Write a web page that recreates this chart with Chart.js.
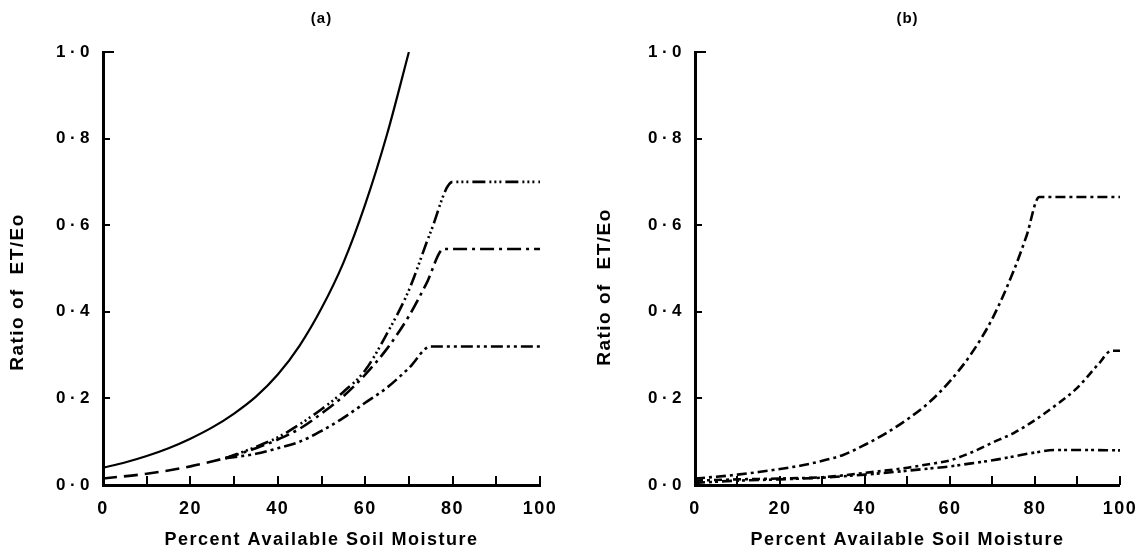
<!DOCTYPE html>
<html>
<head>
<meta charset="utf-8">
<script src="https://cdn.jsdelivr.net/npm/chart.js@4.4.0/dist/chart.umd.min.js"></script>
<style>
  body { margin: 0; background: #fff; }
  .panel { position: absolute; top: 0; width: 574px; height: 555px; }
</style>
</head>
<body>
<div class="panel" style="left:0"><canvas id="chartA" width="574" height="555"></canvas></div>
<div class="panel" style="left:574px"><canvas id="chartB" width="574" height="555"></canvas></div>
<script>
// Panel (a): shared dry-end segment, then the curves
const aBaseX = [0, 10, 20, 28];
const aBaseY = [0.015, 0.026, 0.043, 0.062];

const aSolidX = [0, 5, 10, 15, 20, 25, 30, 35, 40, 45, 50, 55, 60, 65, 70];
const aSolidY = [0.04, 0.052, 0.067, 0.085, 0.107, 0.133, 0.165, 0.204, 0.255, 0.322, 0.408, 0.513, 0.648, 0.81, 1.0];

const aHighX = [28, 35, 40, 45, 50, 55, 60, 65, 70, 75, 80, 90, 100];
const aHighY = [0.062, 0.088, 0.11, 0.14, 0.175, 0.215, 0.265, 0.35, 0.45, 0.585, 0.70, 0.70, 0.70];

const aMidX = [28, 35, 40, 45, 50, 55, 60, 65, 70, 74, 78, 90, 100];
const aMidY = [0.062, 0.085, 0.105, 0.13, 0.165, 0.205, 0.255, 0.315, 0.39, 0.465, 0.545, 0.545, 0.545];

const aLowX = [28, 35, 40, 45, 50, 55, 60, 65, 70, 75, 80, 90, 100];
const aLowY = [0.062, 0.072, 0.085, 0.1, 0.125, 0.155, 0.19, 0.225, 0.27, 0.32, 0.32, 0.32, 0.32];

// Panel (b) curves
const bHighX = [0, 5, 10, 15, 20, 25, 30, 35, 40, 45, 50, 55, 60, 65, 70, 75, 78, 81, 90, 100];
const bHighY = [0.015, 0.019, 0.024, 0.03, 0.037, 0.045, 0.056, 0.07, 0.093, 0.12, 0.152, 0.19, 0.24, 0.303, 0.385, 0.495, 0.575, 0.665, 0.665, 0.665];

const bMidX = [0, 10, 20, 30, 40, 50, 55, 60, 65, 70, 75, 80, 85, 90, 95, 98, 100];
const bMidY = [0.01, 0.013, 0.015, 0.018, 0.028, 0.04, 0.048, 0.057, 0.075, 0.098, 0.12, 0.15, 0.185, 0.225, 0.28, 0.31, 0.31];

const bLowX = [0, 10, 20, 30, 40, 50, 55, 60, 65, 70, 75, 80, 85, 90, 100];
const bLowY = [0.005, 0.01, 0.013, 0.017, 0.024, 0.033, 0.038, 0.043, 0.05, 0.057, 0.066, 0.075, 0.081, 0.081, 0.08];

const FONT = "'Liberation Sans', Arial, sans-serif";

function pts(xs, ys) {
    return xs.map((x, i) => ({ x: x, y: ys[i] }));
}

function curve(xs, ys, dash, width) {
    return {
        data: pts(xs, ys),
        borderColor: '#000',
        borderWidth: width || 2.6,
        borderDash: dash,
        borderCapStyle: 'butt',
        pointRadius: 0,
        fill: false,
        cubicInterpolationMode: 'monotone'
    };
}

// wide lettering like the printed figure, inward ticks, panel letter, rotated y title
const paperAxes = {
    id: 'paperAxes',
    beforeDraw(chart) {
        chart.ctx.letterSpacing = '1.5px';
    },
    afterDraw(chart, args, opts) {
        const { ctx, chartArea, scales: { x, y } } = chart;
        ctx.save();
        ctx.strokeStyle = '#000';
        ctx.lineWidth = 2;
        ctx.beginPath();
        x.ticks.forEach(t => {
            if (t.value === 0) return;
            const px = Math.round(x.getPixelForValue(t.value));
            ctx.moveTo(px, chartArea.bottom);
            ctx.lineTo(px, chartArea.bottom - 9);
        });
        y.ticks.forEach(t => {
            if (t.value === 0) return;
            const py = Math.round(y.getPixelForValue(t.value));
            const len = t.value > 0.99 ? 11 : 7;
            ctx.moveTo(chartArea.left, py);
            ctx.lineTo(chartArea.left + len, py);
        });
        ctx.stroke();

        ctx.fillStyle = '#000';
        ctx.letterSpacing = '1px';
        ctx.font = 'bold 15px ' + FONT;
        ctx.textAlign = 'center';
        ctx.textBaseline = 'middle';
        ctx.fillText(opts.letter, (chartArea.left + chartArea.right) / 2, 19);

        ctx.translate(opts.titleX, opts.titleY);
        ctx.rotate(-Math.PI / 2);
        ctx.letterSpacing = '1.5px';
        ctx.font = 'bold 19px ' + FONT;
        ctx.fillText('Ratio of  ET/Eo', 0, 0);
        ctx.restore();
    }
};

function makeChart(id, letter, datasets, axisLeft, rightPad, titleX, titleY) {
    return new Chart(document.getElementById(id), {
        type: 'line',
        data: { datasets: datasets },
        options: {
            responsive: false,
            animation: false,
            layout: { padding: { top: 52, right: rightPad, left: 0, bottom: 0 } },
            plugins: {
                legend: { display: false },
                tooltip: { enabled: false },
                paperAxes: { letter: letter, titleX: titleX, titleY: titleY }
            },
            scales: {
                x: {
                    type: 'linear',
                    min: 0,
                    max: 100,
                    grid: { display: false, drawTicks: false },
                    border: { display: true, width: 3, color: '#000' },
                    ticks: {
                        stepSize: 10,
                        autoSkip: false,
                        maxRotation: 0,
                        padding: 13,
                        color: '#000',
                        font: { family: FONT, size: 18, weight: 'bold' },
                        callback: v => (v % 20 === 0 ? String(v) : '')
                    },
                    title: {
                        display: true,
                        text: 'Percent Available Soil Moisture',
                        color: '#000',
                        font: { family: FONT, size: 18, weight: 'bold' },
                        padding: { top: 0, bottom: 4 }
                    },
                    afterFit: s => { s.height = 70; }
                },
                y: {
                    min: 0,
                    max: 1,
                    grid: { display: false, drawTicks: false },
                    border: { display: true, width: 3, color: '#000' },
                    ticks: {
                        stepSize: 0.2,
                        padding: 12,
                        color: '#000',
                        font: { family: FONT, size: 17, weight: 'bold' },
                        callback: v => v.toFixed(1).replace('.', '\u200A·\u200A')
                    },
                    afterFit: s => { s.width = axisLeft; }
                }
            }
        },
        plugins: [paperAxes]
    });
}

makeChart('chartA', '(a)', [
    curve(aSolidX, aSolidY, [], 2.2),
    curve(aBaseX, aBaseY, [14, 7]),
    curve(aHighX, aHighY, [13, 4, 2, 3, 2, 3, 2, 4]),
    curve(aMidX, aMidY, [14, 5, 3, 5]),
    curve(aLowX, aLowY, [12, 4, 3, 4, 3, 4])
], 103, 34, 18, 292);

makeChart('chartB', '(b)', [
    curve(bHighX, bHighY, [10, 4, 3, 4]),
    curve(bMidX, bMidY, [8, 4, 3, 4]),
    curve(bLowX, bLowY, [10, 4, 3, 3, 3, 4])
], 121, 23, 31, 287);
</script>
</body>
</html>
